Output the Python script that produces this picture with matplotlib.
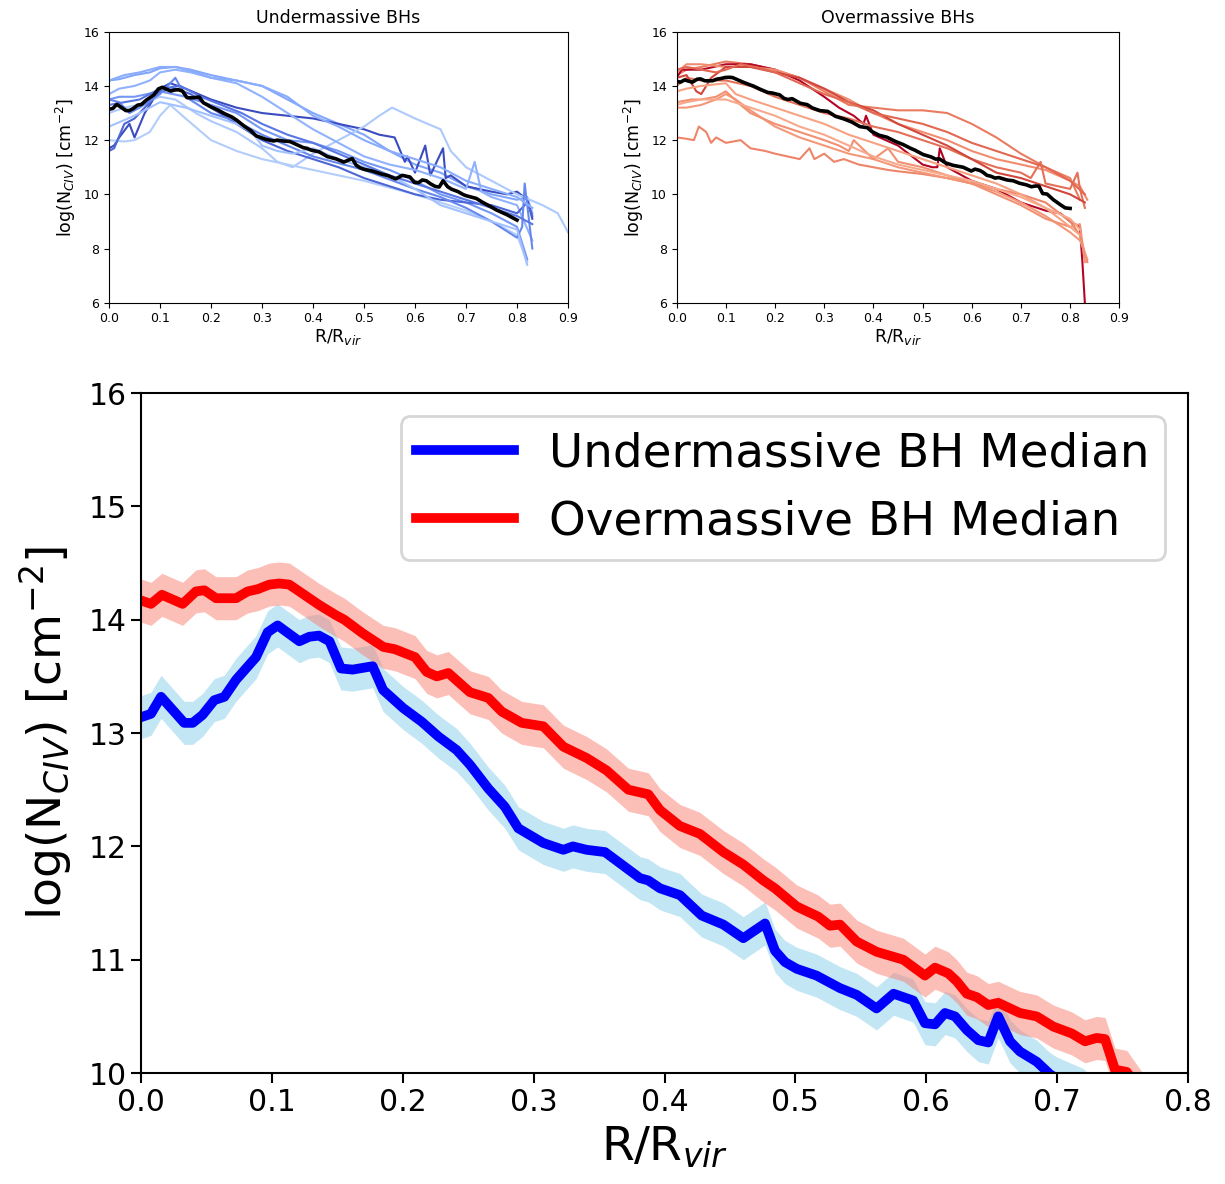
import numpy as np
import matplotlib
matplotlib.use("Agg")
import matplotlib.pyplot as plt

# ---------------- median curves (main panel) ----------------
under_x = [0.0, 0.0076, 0.0153, 0.033, 0.0395, 0.047, 0.056, 0.0637, 0.0726, 0.0879, 0.0968,
           0.1044, 0.121, 0.1286, 0.136, 0.144, 0.1528, 0.1617, 0.177, 0.185, 0.2004, 0.2145,
           0.2272, 0.2412, 0.2514, 0.2654, 0.278, 0.2883, 0.3074, 0.3227, 0.330, 0.3405, 0.3545,
           0.3685, 0.3813, 0.3876, 0.3966, 0.4118, 0.4284, 0.445, 0.4602, 0.4768, 0.4844, 0.492,
           0.501, 0.5162, 0.534, 0.5469, 0.562, 0.575, 0.590, 0.599, 0.6067, 0.6143, 0.622,
           0.631, 0.6398, 0.6474, 0.655, 0.664, 0.6716, 0.6844, 0.6945, 0.70, 0.72, 0.733,
           0.745, 0.76, 0.78, 0.80]
under_y = [13.14, 13.17, 13.32, 13.09, 13.09, 13.16, 13.29, 13.32, 13.47, 13.67, 13.89,
           13.95, 13.81, 13.85, 13.86, 13.81, 13.57, 13.56, 13.59, 13.38, 13.22, 13.10,
           12.97, 12.85, 12.72, 12.51, 12.35, 12.16, 12.03, 11.97, 12.00, 11.97, 11.95,
           11.83, 11.72, 11.70, 11.63, 11.57, 11.39, 11.31, 11.19, 11.32, 11.08, 10.98,
           10.92, 10.86, 10.75, 10.69, 10.57, 10.70, 10.64, 10.44, 10.43, 10.53, 10.50,
           10.38, 10.29, 10.27, 10.50, 10.28, 10.19, 10.10, 9.99, 9.95, 9.85, 9.70,
           9.58, 9.42, 9.25, 9.05]

over_x = [0.0, 0.0076, 0.016, 0.0318, 0.042, 0.0484, 0.0573, 0.0726, 0.0815, 0.0892, 0.098,
          0.1057, 0.1133, 0.1235, 0.1362, 0.149, 0.1554, 0.1694, 0.1852, 0.194, 0.2094,
          0.2183, 0.226, 0.2348, 0.2514, 0.2654, 0.2756, 0.2909, 0.3074, 0.3227, 0.3405,
          0.3558, 0.3724, 0.3876, 0.3966, 0.4118, 0.4271, 0.445, 0.4602, 0.4755, 0.4844,
          0.501, 0.5175, 0.5265, 0.5341, 0.5469, 0.5621, 0.5825, 0.599, 0.6067, 0.6168,
          0.6233, 0.631, 0.6386, 0.6474, 0.655, 0.6716, 0.6844, 0.6971, 0.7111, 0.7213,
          0.7302, 0.7366, 0.7442, 0.7532, 0.766, 0.78, 0.79, 0.80]
over_y = [14.17, 14.14, 14.22, 14.14, 14.25, 14.26, 14.19, 14.19, 14.25, 14.27, 14.31,
          14.32, 14.31, 14.23, 14.13, 14.04, 14.00, 13.88, 13.76, 13.74, 13.67,
          13.54, 13.50, 13.53, 13.36, 13.31, 13.19, 13.09, 13.06, 12.88, 12.78,
          12.67, 12.50, 12.46, 12.32, 12.18, 12.11, 11.95, 11.84, 11.70, 11.63,
          11.47, 11.38, 11.30, 11.31, 11.16, 11.07, 11.00, 10.86, 10.93, 10.88,
          10.81, 10.70, 10.67, 10.60, 10.62, 10.53, 10.50, 10.41, 10.35, 10.28,
          10.31, 10.30, 10.03, 10.01, 9.80, 9.62, 9.50, 9.48]

band_halfwidth = 0.19

# ---------------- individual profiles (top panels) ----------------
under_profiles = [
    ([0, .02, .05, .08, .1, .13, .16, .2, .25, .3, .35, .4, .45, .5, .55, .6, .65, .7, .75, .8, .82, .83],
     [14.2, 14.25, 14.4, 14.5, 14.65, 14.7, 14.6, 14.4, 14.2, 14.0, 13.5, 13.0, 12.6, 12.2, 11.6, 11.1, 10.8, 10.3, 10.0, 9.8, 9.9, 9.3]),
    ([0, .01, .02, .04, .05, .07, .1, .12, .15, .2, .25, .3, .35, .4, .45, .5, .53, .56, .58, .585, .6, .62, .63, .655, .66, .67, .7, .75, .78, .8, .82, .83],
     [11.7, 11.8, 12.1, 12.6, 12.1, 13.0, 13.9, 14.1, 13.9, 13.5, 13.2, 13.0, 12.9, 12.8, 12.6, 12.4, 12.2, 12.1, 11.2, 11.4, 10.8, 11.8, 10.7, 11.7, 10.6, 10.7, 10.3, 10.1, 10.0, 10.1, 9.8, 9.1]),
    ([0, .03, .06, .1, .13, .17, .2, .25, .3, .33, .36, .4, .45, .5, .53, .555, .6, .65, .67, .7, .75, .8, .85, .88, .9],
     [13.0, 13.2, 13.3, 13.6, 13.5, 13.0, 12.7, 12.3, 11.7, 11.2, 11.0, 11.5, 12.0, 12.5, 12.9, 13.2, 12.8, 12.4, 11.6, 11.0, 10.5, 10.0, 9.6, 9.3, 8.6]),
    ([0, .03, .05, .08, .1, .12, .15, .2, .25, .3, .35, .4, .5, .6, .7, .75, .8, .82],
     [12.0, 11.95, 12.0, 12.3, 12.9, 13.3, 12.8, 12.0, 11.6, 11.3, 11.1, 10.9, 10.5, 10.0, 9.4, 9.0, 8.5, 7.5]),
    ([0, .02, .05, .1, .15, .2, .25, .3, .35, .4, .45, .5, .55, .6, .65, .7, .75, .8, .82],
     [13.5, 13.6, 13.6, 13.8, 13.6, 13.3, 13.0, 12.4, 12.0, 11.9, 11.6, 11.2, 10.9, 10.5, 10.0, 9.7, 9.3, 8.8, 7.6]),
    ([0, .02, .05, .08, .1, .13, .16, .2, .25, .3, .35, .4, .45, .5, .55, .6, .65, .7, .717, .73, .75, .8, .83],
     [13.7, 13.9, 14.0, 14.2, 14.5, 14.6, 14.5, 14.3, 14.1, 13.6, 13.0, 12.4, 11.9, 11.4, 11.1, 10.9, 10.6, 10.2, 11.2, 10.1, 9.9, 9.6, 8.3]),
    ([0, .01, .03, .05, .08, .1, .13, .16, .2, .25, .3, .35, .4, .45, .5, .55, .6, .65, .7, .75, .8, .82, .83],
     [11.6, 11.7, 12.6, 12.8, 13.4, 13.8, 13.9, 13.7, 13.2, 12.6, 12.0, 11.6, 11.3, 11.0, 10.6, 10.3, 10.0, 9.8, 9.7, 9.6, 9.3, 9.7, 9.2]),
    ([0, .02, .04, .06, .1, .13, .15, .2, .25, .3, .35, .4, .5, .6, .65, .7, .75, .8, .81, .815, .83],
     [13.5, 13.4, 13.0, 13.2, 13.7, 14.3, 13.6, 13.0, 12.7, 12.2, 11.8, 11.4, 10.9, 10.2, 9.9, 9.5, 9.0, 8.4, 8.8, 10.4, 8.0]),
    ([0, .05, .1, .15, .2, .25, .28, .3, .33, .36, .4, .45, .5, .55, .6, .65, .7, .75, .8, .82],
     [12.5, 12.9, 13.4, 13.2, 12.9, 12.6, 12.3, 11.8, 11.6, 11.5, 11.7, 11.3, 11.0, 10.7, 10.2, 9.6, 9.3, 9.0, 8.7, 7.4]),
    ([0, .03, .06, .1, .14, .18, .22, .26, .3, .35, .4, .45, .5, .55, .6, .65, .7, .75, .8, .83],
     [13.3, 13.4, 13.5, 13.9, 14.0, 13.6, 13.3, 13.0, 12.6, 12.2, 11.9, 11.5, 11.1, 10.7, 10.4, 10.1, 9.8, 9.5, 9.2, 8.9]),
    ([0, .03, .06, .1, .13, .17, .2, .25, .3, .35, .4, .45, .5, .55, .6, .65, .7, .75, .8, .83],
     [14.2, 14.4, 14.5, 14.7, 14.7, 14.5, 14.3, 14.2, 14.0, 13.6, 12.9, 12.5, 12.0, 11.6, 11.3, 11.0, 10.5, 10.2, 9.9, 9.5]),
]

over_profiles = [
    ([0, .02, .05, .1, .15, .2, .25, .3, .35, .4, .45, .5, .55, .6, .65, .7, .75, .8, .82],
     [14.4, 14.6, 14.7, 14.9, 14.8, 14.6, 14.3, 13.8, 13.3, 13.2, 13.1, 13.1, 13.0, 12.6, 12.1, 11.5, 11.0, 10.6, 9.8]),
    ([0, .01, .02, .05, .1, .15, .2, .25, .3, .33, .36, .38, .385, .4, .45, .5, .52, .53, .535, .55, .6, .65, .7, .75, .78, .8, .82, .825, .83],
     [14.3, 14.6, 14.6, 14.6, 14.8, 14.8, 14.6, 14.2, 13.6, 13.2, 12.9, 12.6, 12.9, 12.2, 11.8, 11.1, 11.0, 11.0, 11.7, 11.0, 10.5, 10.2, 9.7, 9.4, 9.3, 9.0, 8.8, 7.5, 6.0]),
    ([0, .02, .05, .1, .15, .2, .25, .3, .35, .4, .45, .5, .55, .6, .65, .7, .75, .8, .82, .835],
     [14.5, 14.8, 14.8, 14.7, 14.7, 14.6, 14.3, 13.9, 13.5, 13.0, 12.6, 12.3, 12.0, 11.6, 11.3, 11.1, 10.9, 10.5, 10.3, 9.8]),
    ([0, .02, .035, .045, .06, .07, .08, .1, .13, .15, .18, .2, .25, .27, .28, .3, .32, .34, .37, .4, .43, .45, .5, .55, .6, .65, .7, .75, .8, .82, .835],
     [12.1, 12.05, 12.0, 12.5, 12.3, 11.9, 12.1, 11.9, 12.0, 11.7, 11.6, 11.5, 11.3, 11.7, 11.3, 11.5, 11.2, 11.3, 11.1, 11.0, 10.9, 10.85, 10.75, 10.6, 10.4, 10.2, 10.0, 9.7, 9.0, 8.5, 7.5]),
    ([0, .02, .05, .08, .1, .12, .15, .2, .25, .3, .35, .4, .45, .5, .55, .6, .65, .7, .75, .8, .82, .835],
     [13.2, 13.2, 13.3, 13.5, 13.7, 13.5, 13.1, 12.5, 12.1, 11.8, 11.5, 11.3, 11.0, 10.8, 10.6, 10.4, 10.1, 9.7, 9.2, 8.6, 8.3, 7.6]),
    ([0, .03, .05, .08, .1, .13, .15, .2, .25, .3, .33, .35, .36, .4, .43, .45, .5, .55, .6, .65, .7, .75, .8, .82, .83],
     [13.4, 13.5, 13.5, 13.6, 13.8, 13.3, 13.0, 12.6, 12.3, 12.0, 11.8, 11.6, 12.0, 11.3, 11.7, 11.2, 11.0, 10.7, 10.4, 10.0, 9.6, 9.1, 8.8, 8.9, 7.5]),
    ([0, .02, .05, .1, .15, .2, .25, .3, .35, .4, .45, .5, .55, .6, .65, .7, .72, .74, .75, .8, .815, .82, .83],
     [14.0, 14.3, 14.2, 14.2, 14.0, 13.6, 13.3, 13.0, 12.8, 12.5, 12.3, 12.0, 11.7, 11.3, 11.0, 10.8, 10.6, 11.2, 10.4, 10.2, 10.8, 10.2, 9.5]),
    ([0, .02, .04, .05, .07, .1, .15, .2, .25, .3, .35, .4, .45, .5, .55, .6, .65, .7, .75, .8, .83],
     [14.3, 14.4, 13.8, 13.7, 14.3, 14.7, 14.7, 14.5, 14.3, 13.9, 13.4, 13.1, 12.6, 12.2, 11.8, 11.3, 10.8, 10.6, 10.3, 10.0, 9.7]),
    ([0, .02, .05, .1, .12, .15, .2, .25, .3, .35, .4, .45, .5, .55, .6, .65, .7, .75, .8, .82],
     [13.8, 13.9, 14.0, 14.1, 13.7, 13.5, 13.2, 12.9, 12.6, 12.2, 11.9, 11.6, 11.3, 11.0, 10.7, 10.4, 10.0, 9.5, 8.8, 8.5]),
    ([0, .02, .05, .08, .1, .13, .16, .2, .25, .3, .35, .4, .45, .5, .55, .6, .65, .7, .75, .8, .83],
     [14.6, 14.7, 14.6, 14.5, 14.6, 14.8, 14.7, 14.5, 14.1, 13.7, 13.4, 13.0, 12.8, 12.6, 12.3, 11.9, 11.6, 11.3, 11.0, 10.5, 10.0]),
    ([0, .02, .05, .1, .15, .2, .25, .3, .35, .4, .45, .5, .55, .6, .65, .7, .75, .8, .82],
     [13.3, 13.4, 13.5, 13.5, 13.2, 12.9, 12.5, 12.2, 11.8, 11.4, 11.1, 10.9, 10.7, 10.5, 10.2, 9.9, 9.5, 9.1, 8.7]),
]

# colour order for profiles (position in the coolwarm colormap)
under_cpos = [0.22, 0.0, 0.34, 0.36, 0.18, 0.26, 0.06, 0.14, 0.31, 0.10, 0.24]
over_cpos = [0.82, 1.0, 0.78, 0.80, 0.75, 0.77, 0.84, 0.92, 0.73, 0.86, 0.71]

fig = plt.figure(figsize=(12.25, 11.84), dpi=100)

ax1 = fig.add_axes([0.089, 0.7443, 0.3747, 0.2289])
ax2 = fig.add_axes([0.5524, 0.7443, 0.3613, 0.2289])
ax3 = fig.add_axes([0.1151, 0.0937, 0.8547, 0.5743])

cmap = plt.get_cmap('coolwarm')

for ax, profs, cpos, mx, my, title in [
        (ax1, under_profiles, under_cpos, under_x, under_y, 'Undermassive BHs'),
        (ax2, over_profiles, over_cpos, over_x, over_y, 'Overmassive BHs')]:
    for (px, py), c in zip(profs, cpos):
        ax.plot(px, py, color=cmap(c), lw=1.5)
    ax.plot(mx, my, color='black', lw=2.6)
    ax.set_xlim(0, 0.9)
    ax.set_ylim(6, 16)
    ax.set_xticks(np.arange(0, 0.91, 0.1))
    ax.set_xticklabels(['0.0', '0.1', '0.2', '0.3', '0.4', '0.5', '0.6', '0.7', '0.8', '0.9'])
    ax.set_yticks([6, 8, 10, 12, 14, 16])
    ax.tick_params(labelsize=9)
    ax.set_title(title, fontsize=12.5)
    ax.set_xlabel(r'R/R$_{vir}$', fontsize=12.5, labelpad=1)
    ax.set_ylabel(r'log(N$_{CIV}$) [cm$^{-2}$]', fontsize=12.5)

# main panel
ux = np.array(under_x); uy = np.array(under_y)
ox = np.array(over_x); oy = np.array(over_y)
ax3.fill_between(ux, uy - band_halfwidth, uy + band_halfwidth, color='skyblue', alpha=0.5, lw=0)
ax3.fill_between(ox, oy - band_halfwidth, oy + band_halfwidth, color='salmon', alpha=0.5, lw=0)
ax3.plot(ux, uy, color='blue', lw=7, label='Undermassive BH Median')
ax3.plot(ox, oy, color='red', lw=7, label='Overmassive BH Median')
ax3.set_xlim(0, 0.8)
ax3.set_ylim(10, 16)
ax3.set_xticks(np.arange(0, 0.81, 0.1))
ax3.set_xticklabels(['0.0', '0.1', '0.2', '0.3', '0.4', '0.5', '0.6', '0.7', '0.8'])
ax3.tick_params(labelsize=21.5, length=7, width=1.5)
for s in ax3.spines.values():
    s.set_linewidth(1.5)
ax3.set_xlabel(r'R/R$_{vir}$', fontsize=34, labelpad=6)
ax3.set_ylabel(r'log(N$_{CIV}$) [cm$^{-2}$]', fontsize=34, labelpad=10)
leg = ax3.legend(loc='upper right', fontsize=33.7, handlelength=2.1,
                 handletextpad=0.75, borderpad=0.32)
leg.get_frame().set_linewidth(2)

fig.savefig('out.png', dpi=100)
